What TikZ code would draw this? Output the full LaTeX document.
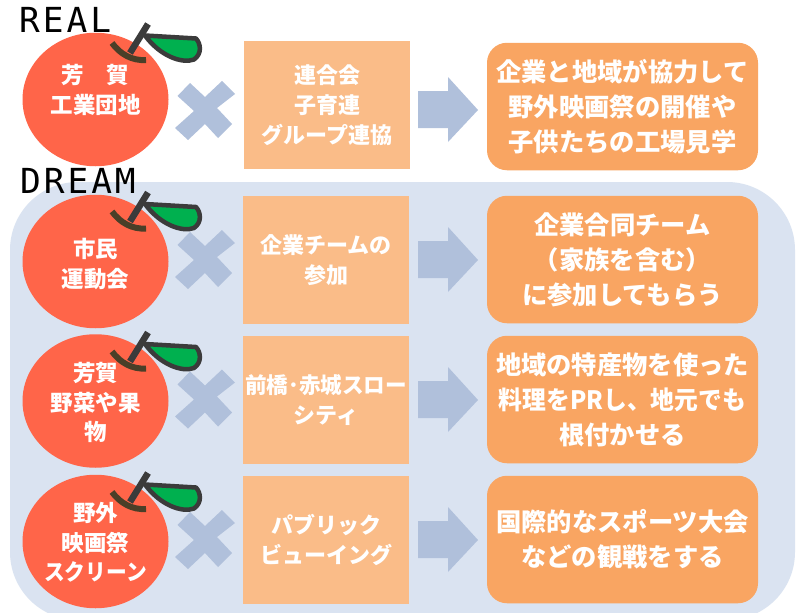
\documentclass[tikz,border=0pt]{standalone}
\usetikzlibrary{shapes.geometric}
\usepackage{fontspec}
\setmainfont{Noto Sans CJK JP}
\newfontfamily\latinmono[LetterSpace=8.5]{DejaVu Sans Mono}
\definecolor{appleRed}{HTML}{FF6549}
\definecolor{midOrange}{HTML}{FABC88}
\definecolor{resOrange}{HTML}{F9A562}
\definecolor{steelBlue}{HTML}{B0C0DB}
\definecolor{panelBlue}{HTML}{DAE3F1}
\definecolor{stemGray}{HTML}{3B3B3B}
\definecolor{twigBrown}{HTML}{4A3F28}
\definecolor{leafGreen}{HTML}{00B04F}
\tikzset{
  applebody/.style={ellipse,fill=appleRed,minimum width=146pt,minimum height=133.5pt,inner sep=0pt},
  appletext/.style={inner sep=0pt,text=white,align=center,font=\bfseries\fontsize{22.5}{29.7}\selectfont},
  midbox/.style={rectangle,fill=midOrange,minimum width=166pt,minimum height=127.5pt,inner sep=0pt,text=white,align=center,font=\bfseries\fontsize{22}{30}\selectfont},
  resultbox/.style={rectangle,rounded corners=20pt,fill=resOrange,minimum width=271pt,minimum height=127.5pt,inner sep=0pt,text=white,align=center,font=\bfseries\fontsize{25.3}{35}\selectfont},
  heading/.style={anchor=west,inner sep=0pt,font=\latinmono\fontsize{34.5}{34.5}\selectfont},
  stemline/.style={draw=stemGray,line width=6.5pt},
  twigline/.style={draw=twigBrown,line width=6pt},
  leafshape/.style={draw=stemGray,line width=4.5pt,fill=leafGreen,line join=round},
}
\newcommand{\applemark}[1]{%
  \begin{scope}[shift={(0,#1)}]
    \draw[leafshape] (145,35.5) -- (196,38.5) .. controls (201,44) and (202,54) .. (194,59.5) .. controls (182,64) and (160,56) .. (145,35.5) -- cycle;
    \draw[twigline] (112,43) .. controls (120,54) and (132,61) .. (146,60);
    \draw[stemline] (130,53) -- (148,24);
  \end{scope}}
\newcommand{\crossmark}[1]{%
  \fill[steelBlue,shift={(0,#1)}] (190,83) -- (177.5,96) -- (194,111) -- (175,128) -- (188,140) -- (205,124) -- (218,138) -- (232,124) -- (217,108) -- (235,94) -- (222,81) -- (205,97) -- cycle;}
\newcommand{\flowmark}[1]{%
  \fill[steelBlue,shift={(0,#1)}] (418,91) -- (448,91) -- (448,77) -- (478,110) -- (448,142) -- (448,128) -- (418,128) -- cycle;}
\begin{document}
\begin{tikzpicture}[x=1pt,y=-1pt]
\useasboundingbox (0,0) rectangle (798,613);
\clip (0,0) rectangle (798,613);
\fill[white] (0,0) rectangle (798,613);
\fill[panelBlue,rounded corners=68pt] (10,182) -- (795,182) -- (795,620) -- (10,620) -- cycle;
\node[heading] (real) at (19,19.5) {REAL};
\node[heading] (dream) at (20,180.5) {DREAM};

\node[applebody] (a1) at (95.5,99.5) {};
\node[applebody] (a2) at (95.5,261.5) {};
\node[applebody] (a3) at (95.5,401) {};
\node[applebody] (a4) at (95.5,541.5) {};
\applemark{0}\applemark{168.5}\applemark{308.5}\applemark{449}
\node[appletext] (t1) at (95.5,90) {芳　賀\\工業団地};
\node[appletext] (t2) at (95.5,264) {市民\\運動会};
\node[appletext] (t3) at (95.5,402.5) {芳賀\\野菜や果\\物};
\node[appletext] (t4) at (95.5,542.5) {野外\\映画祭\\\scalebox{.92}[1]{スクリーン}};
\crossmark{0}\crossmark{149}\crossmark{288.5}\crossmark{429}

\node[midbox] (m1) at (327,105) {連合会\\子育連\\グループ連協};
\node[midbox] (m2) at (326,260) {企業チームの\\参加};
\node[midbox] (m3) at (326,400) {\scalebox{.98}[1]{前橋･赤城スロー}\\シティ};
\node[midbox] (m4) at (326,540) {パブリック\\ビューイング};

\flowmark{0}\flowmark{150}\flowmark{290}\flowmark{430}

\node[resultbox] (r1) at (622.5,106.5) {企業と地域が協力して\\野外映画祭の開催や\\子供たちの工場見学};
\node[resultbox] (r2) at (622.5,259.5) {企業合同チーム\\（家族を含む）\\に参加してもらう};
\node[resultbox] (r3) at (622.5,399.5) {地域の特産物を使った\\\scalebox{.94}[1]{料理をPRし、地元でも}\\根付かせる};
\node[resultbox] (r4) at (622.5,539.5) {国際的なスポーツ大会\\などの観戦をする};
\end{tikzpicture}
\end{document}
